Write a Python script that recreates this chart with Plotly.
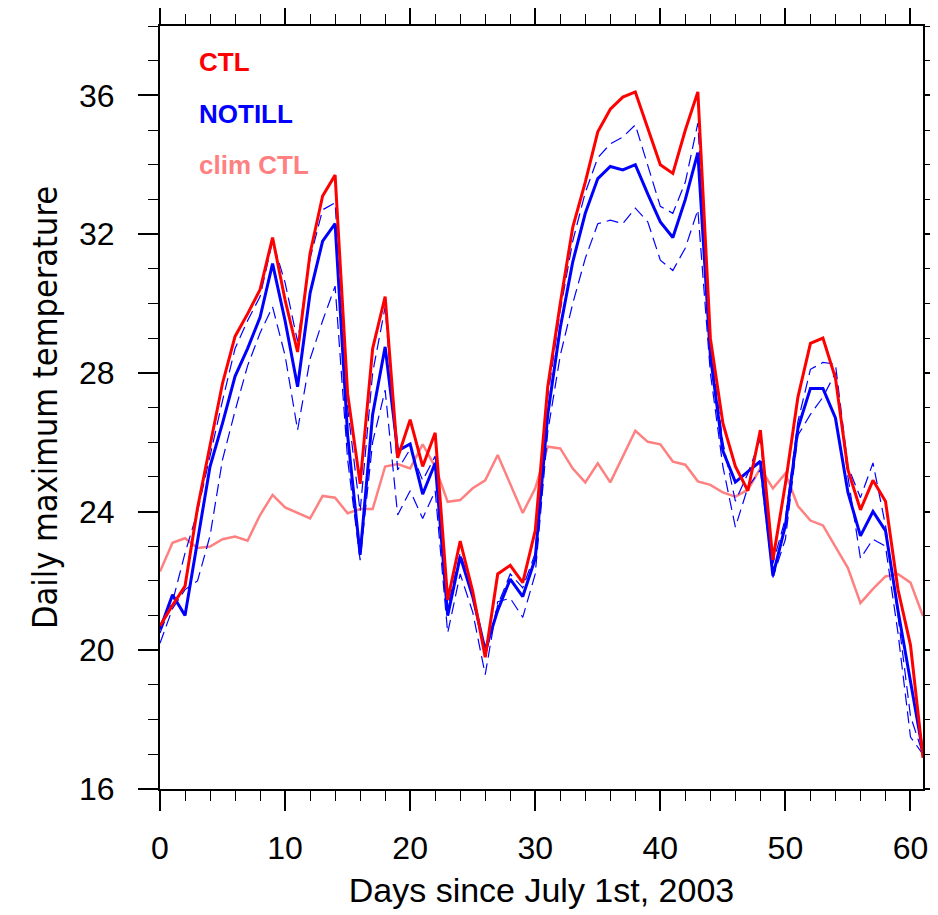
import plotly.graph_objects as go

days = list(range(62))

ctl = [20.7, 21.3, 21.85, 24.1, 25.9, 27.7, 29.05, 29.7, 30.4, 31.9,
       30.1, 28.6, 31.45, 33.1, 33.7, 27.4, 24.8, 28.7, 30.2, 25.55,
       26.65, 25.3, 26.27, 21.45, 23.15, 21.7, 19.8, 22.2, 22.45, 21.95,
       23.45, 27.6, 30.0, 32.2, 33.5, 34.95, 35.6, 35.95, 36.1, 35.05,
       34.0, 33.75, 35.0, 36.1, 29.0, 26.55, 25.3, 24.6, 26.35, 22.6,
       24.8, 27.3, 28.85, 29.0, 27.85, 25.2, 24.05, 24.9, 24.3, 21.75,
       20.15, 16.9]

notill = [20.6, 21.6, 21.0, 23.2, 25.3, 26.55, 27.9, 28.7, 29.6, 31.15,
          29.5, 27.6, 30.3, 31.8, 32.3, 26.2, 22.75, 26.8, 28.75, 25.75,
          25.95, 24.5, 25.4, 21.0, 22.7, 21.55, 20.0, 21.15, 22.05, 21.55,
          22.65, 26.8, 29.3, 31.2, 32.6, 33.6, 33.95, 33.85, 34.0, 33.15,
          32.35, 31.9, 33.0, 34.35, 28.5, 25.75, 24.85, 25.15, 25.45, 22.15,
          23.6, 26.4, 27.55, 27.55, 26.7, 24.55, 23.3, 24.0, 23.45, 21.15,
          19.05, 17.05]

notill_hi = [20.5, 21.4, 22.8, 24.0, 25.6, 27.2, 28.7, 29.5, 30.2, 31.8,
             30.6, 28.9, 31.3, 32.7, 32.9, 27.0, 24.0, 28.0, 29.9, 25.2,
             25.8, 24.9, 25.6, 21.25, 22.8, 21.7, 19.8, 21.3, 22.2, 21.8,
             22.8, 27.3, 29.8, 31.8, 33.2, 34.2, 34.6, 34.8, 35.15, 34.0,
             32.8, 32.6, 33.5, 35.2, 28.8, 26.0, 24.3, 25.1, 26.1, 22.5,
             23.8, 26.6, 28.1, 28.3, 28.25, 25.3, 24.4, 25.4, 23.6, 21.0,
             18.1, 17.0]

notill_lo = [20.2, 21.2, 21.75, 22.0, 23.3, 25.5, 26.9, 28.2, 29.15, 29.9,
             28.5, 26.35, 28.4, 29.5, 30.5, 25.5, 22.6, 26.0, 27.5, 23.9,
             24.6, 23.8, 24.6, 20.5, 22.2, 21.1, 19.3, 21.4, 21.5, 20.95,
             22.2, 26.3, 28.5, 30.0, 31.3, 32.3, 32.4, 32.3, 32.75, 32.35,
             31.25, 30.95, 31.6, 32.7, 28.0, 25.3, 23.55, 24.7, 25.2, 22.1,
             23.2, 26.2, 26.8, 27.3, 28.0, 25.0, 22.65, 23.2, 23.0, 20.5,
             17.5, 17.0]

clim_ctl = [22.27, 23.1, 23.23, 22.95, 22.99, 23.2, 23.28, 23.16, 23.9, 24.48,
            24.12, 23.95, 23.8, 24.45, 24.4, 23.95, 24.07, 24.07, 25.3, 25.37,
            25.24, 25.94, 25.29, 24.28, 24.33, 24.67, 24.9, 25.63, 24.81, 23.96,
            24.67, 25.87, 25.82, 25.24, 24.84, 25.39, 24.84, 25.58, 26.33, 26.01,
            25.94, 25.44, 25.35, 24.87, 24.77, 24.55, 24.43, 24.63, 25.25, 24.67,
            25.1, 24.16, 23.74, 23.6, 22.99, 22.37, 21.36, 21.77, 22.13, 22.2,
            21.95, 20.99]

xticks = [0, 10, 20, 30, 40, 50, 60]
yticks = [16, 20, 24, 28, 32, 36]

FONT = "Liberation Sans, Arial, Helvetica, sans-serif"
NARROW = "Liberation Sans Narrow, Arial Narrow, DejaVu Sans Condensed, sans-serif"

fig = go.Figure()
fig.add_trace(go.Scatter(x=days, y=clim_ctl, mode="lines",
                         line=dict(color="#ff8080", width=2.5)))
fig.add_trace(go.Scatter(x=days, y=notill_hi, mode="lines",
                         line=dict(color="#0000ff", width=1.2, dash="12px,6px")))
fig.add_trace(go.Scatter(x=days, y=notill_lo, mode="lines",
                         line=dict(color="#0000ff", width=1.2, dash="12px,6px")))
fig.add_trace(go.Scatter(x=days, y=notill, mode="lines",
                         line=dict(color="#0000ff", width=3)))
fig.add_trace(go.Scatter(x=days, y=ctl, mode="lines",
                         line=dict(color="#ff0000", width=3)))
# empty trace so the top/right tick axes get drawn
fig.add_trace(go.Scatter(x=[], y=[], xaxis="x2", yaxis="y2", hoverinfo="skip"))

# legend drawn as coloured labels, NCL style
labels = [("CTL", "#ff0000", 0.953), ("NOTILL", "#0000ff", 0.885), ("clim CTL", "#ff8080", 0.818)]
for txt, col, yy in labels:
    fig.add_annotation(text="<b>%s</b>" % txt, x=0.048, y=yy, xref="paper", yref="paper",
                       xanchor="left", yanchor="middle", showarrow=False,
                       font=dict(family=FONT, size=26, color=col))

tick_style = dict(showgrid=False, zeroline=False, showline=True, linecolor="black",
                  linewidth=2, ticks="outside", ticklen=20, tickwidth=1.5,
                  tickcolor="black", automargin=False,
                  tickfont=dict(family=FONT, size=32, color="black"))
xminor = dict(dtick=2, tick0=0, ticks="outside", ticklen=10, tickcolor="black", tickwidth=1.2)
yminor = dict(dtick=1, tick0=16, ticks="outside", ticklen=10, tickcolor="black", tickwidth=1.2)

fig.update_layout(
    xaxis=dict(range=[0, 61], tickvals=xticks, minor=xminor, ticklabelstandoff=10,
               title=dict(text="Days since July 1st, 2003",
                          font=dict(family=FONT, size=34, color="black"), standoff=13),
               **tick_style),
    yaxis=dict(range=[16, 38], tickvals=yticks, minor=yminor, ticklabelstandoff=17,
               title=dict(text="Daily maximum temperature",
                          font=dict(family=NARROW, size=34, color="black"), standoff=11),
               **tick_style),
    xaxis2=dict(range=[0, 61], tickvals=xticks, minor=xminor, overlaying="x", side="top",
                anchor="y", showticklabels=False, **tick_style),
    yaxis2=dict(range=[16, 38], tickvals=yticks, minor=yminor, overlaying="y", side="right",
                anchor="x", showticklabels=False, **tick_style),
)

# page body adds an 8px margin, so the figure is shifted by that amount
fig.update_layout(width=930, height=907, showlegend=False,
                  plot_bgcolor="white", paper_bgcolor="white",
                  margin=dict(l=152, r=15, t=18, b=126))

fig.write_html("out.html")
